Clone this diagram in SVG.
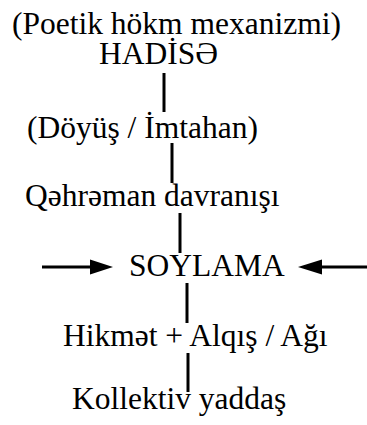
<svg xmlns="http://www.w3.org/2000/svg" width="367" height="425" viewBox="0 0 367 425">
<style>
.t{font-family:"Liberation Serif","Times New Roman",serif;font-size:31.5px;fill:#000}
.c line{stroke:#000;stroke-width:3}
.c polygon{fill:#000}
</style>
<rect width="367" height="425" fill="#fff"/>
<g id="title"><text class="t" x="12" y="34">(Poetik hökm mexanizmi)</text></g>
<g id="hadise"><text class="t" x="99" y="64">HADİSƏ</text></g>
<g id="doyus"><text class="t" x="27" y="138">(Döyüş / İmtahan)</text></g>
<g id="qehreman"><text class="t" x="25" y="206">Qəhrəman davranışı</text></g>
<g id="soylama"><text class="t" x="129" y="276">SOYLAMA</text></g>
<g id="hikmet"><text class="t" x="63" y="346">Hikmət + Alqış / Ağı</text></g>
<g id="yaddas"><text class="t" x="72" y="409">Kollektiv yaddaş</text></g>
<g id="connectors" class="c">
<line x1="164" y1="73" x2="164" y2="112"/>
<line x1="172" y1="143" x2="172" y2="183"/>
<line x1="180" y1="213" x2="180" y2="253"/>
<line x1="187" y1="283" x2="187" y2="323"/>
<line x1="188" y1="353" x2="188" y2="392"/>
<line x1="42" y1="267" x2="91" y2="267"/>
<polygon points="90,259.5 113,267 90,274.5"/>
<line x1="321" y1="267" x2="367" y2="267"/>
<polygon points="322,259.5 298,267 322,274.5"/>
</g>
</svg>
